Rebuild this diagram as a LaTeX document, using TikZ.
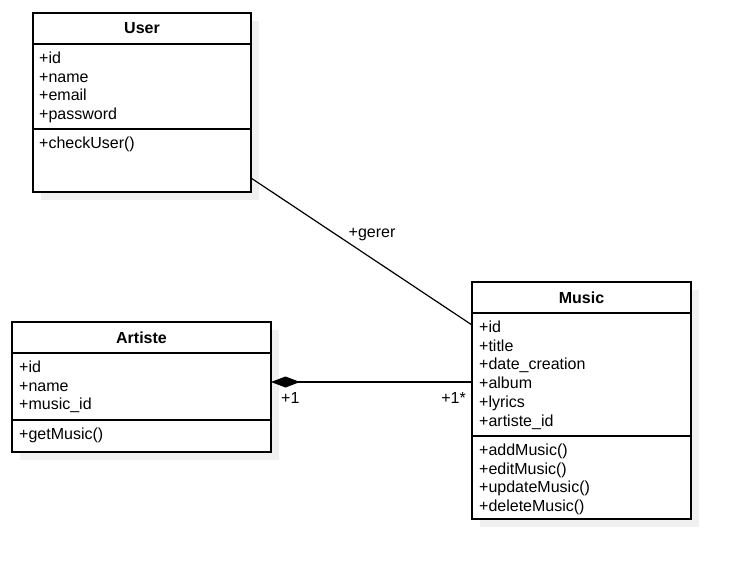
\documentclass[tikz,border=0pt]{standalone}
\usepackage{fontspec}
\setmainfont{Liberation Sans}
\usetikzlibrary{arrows.meta,calc}
\tikzset{
  box/.style={draw=black, line width=1.2pt, fill=white, anchor=north west, inner sep=0pt, outer sep=0pt},
  shadowbox/.style={fill=black!6, draw=none},
  attr/.style={anchor=base west, inner sep=0pt, font=\fontsize{16}{18.7}\selectfont},
  ctitle/.style={font=\fontsize{16}{18.7}\selectfont\bfseries, inner sep=0pt},
  sepline/.style={line width=1.2pt},
  lbl/.style={font=\fontsize{16}{18.7}\selectfont, inner sep=0pt},
  conn/.style={line width=1.2pt}
}
\begin{document}
\begin{tikzpicture}[x=1pt,y=-1pt]
\useasboundingbox[fill=white] (0,0) rectangle (741,570);

% ---------- User ----------
\fill[shadowbox] (41,21) rectangle (259,200);
\node[box, minimum width=218pt, minimum height=179pt] (user) at (33,13) {};
\draw[sepline] ($(user.north west)+(0,31)$) -- ($(user.north east)+(0,31)$);
\draw[sepline] ($(user.north west)+(0,116)$) -- ($(user.north east)+(0,116)$);
\node[ctitle] (usert) at ($(user.north)+(0,15.5)$) {User};
\foreach \t [count=\i] in {+id,+name,+email,+password}
  \node[attr] (ua\i) at (39,{63.5+(\i-1)*18.7}) {\t};
\node[attr] (um1) at (39,148.5) {+checkUser()};

% ---------- Artiste ----------
\fill[shadowbox] (20,330) rectangle (279,460);
\node[box, minimum width=259pt, minimum height=130pt] (artiste) at (12,322) {};
\draw[sepline] ($(artiste.north west)+(0,31)$) -- ($(artiste.north east)+(0,31)$);
\draw[sepline] ($(artiste.north west)+(0,98)$) -- ($(artiste.north east)+(0,98)$);
\node[ctitle] (artistet) at ($(artiste.north)+(0,15.5)$) {Artiste};
\foreach \t [count=\i] in {+id,+name,+music\_id}
  \node[attr] (aa\i) at (19,{372.5+(\i-1)*18.7}) {\t};
\node[attr] (am1) at (19,439) {+getMusic()};

% ---------- Music ----------
\fill[shadowbox] (480,290) rectangle (699,527);
\node[box, minimum width=219pt, minimum height=237pt] (music) at (472,282) {};
\draw[sepline] ($(music.north west)+(0,31)$) -- ($(music.north east)+(0,31)$);
\draw[sepline] ($(music.north west)+(0,154)$) -- ($(music.north east)+(0,154)$);
\node[ctitle] (musict) at ($(music.north)+(0,15.5)$) {Music};
\foreach \t [count=\i] in {+id,+title,+date\_creation,+album,+lyrics,+artiste\_id}
  \node[attr] (ma\i) at (479,{332.5+(\i-1)*18.7}) {\t};
\foreach \t [count=\i] in {+addMusic(),+editMusic(),+updateMusic(),+deleteMusic()}
  \node[attr] (mm\i) at (479,{455.5+(\i-1)*18.7}) {\t};

% ---------- Connectors ----------
\draw[conn] ($(user.north east)+(0,165)$) -- ($(music.north west)+(0,43)$);
\node[lbl] (gerer) at (372,235) {+gerer};

\draw[conn, {Diamond[length=29pt,width=11pt,fill=black]}-]
  ($(artiste.north east)+(0,60)$) -- ($(music.north west)+(0,100)$);
\node[lbl, anchor=west] (mult1) at (281,398) {+1};
\node[lbl, anchor=east] (mult2) at (466,398) {+1*};
\end{tikzpicture}
\end{document}
